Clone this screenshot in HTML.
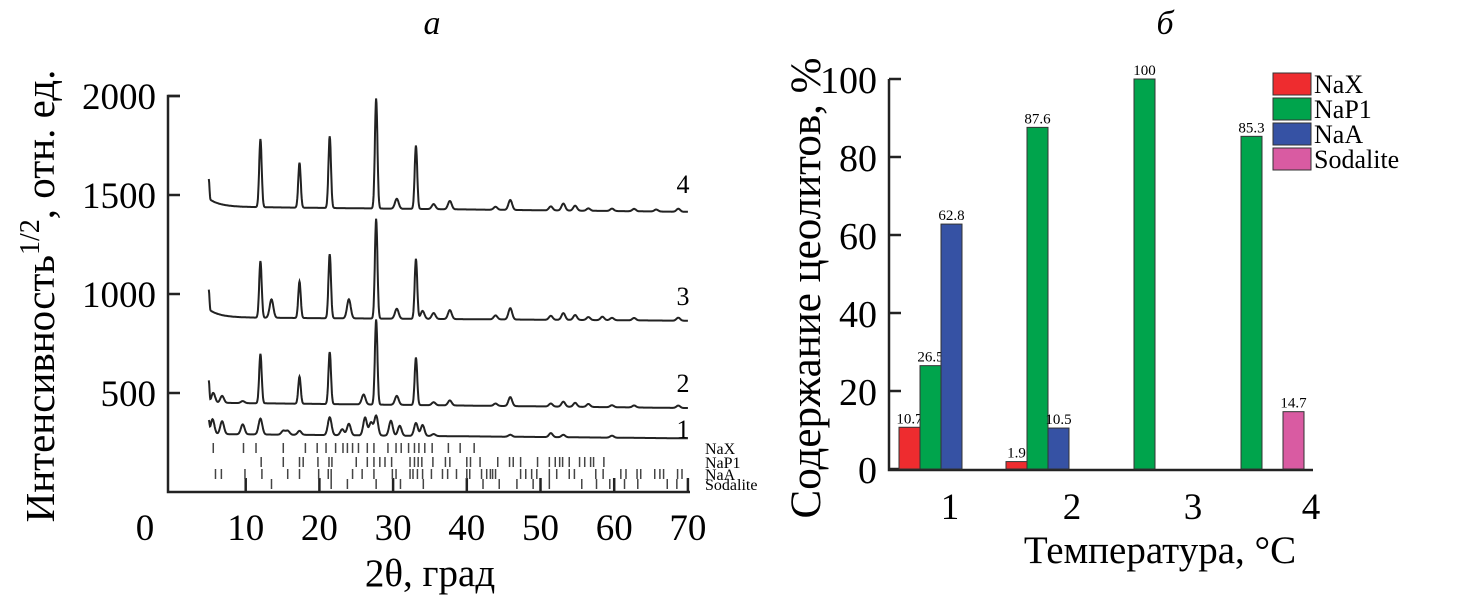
<!DOCTYPE html>
<html><head><meta charset="utf-8"><style>
html,body{margin:0;padding:0;background:#fff;}
svg{display:block;font-family:"Liberation Serif","DejaVu Serif",serif;}
text{font-family:"Liberation Serif","DejaVu Serif",serif;}
</style></head><body>
<svg id="fig" width="1465" height="597" viewBox="0 0 1465 597">
<text x="432" y="34" font-size="34" font-style="italic" text-anchor="middle">а</text>
<text x="1165" y="34" font-size="34" font-style="italic" text-anchor="middle">б</text>
<g id="left"></g>
<g id="right"></g>
</svg>
<script>
// ---------- Panel a data ----------
const yTicksA = [500, 1000, 1500, 2000];
const xTicksA = [0, 10, 20, 30, 40, 50, 60, 70];
const curveNames = ["1", "2", "3", "4"];
const baseStart = [293, 451, 882, 1441];
const baseEnd = [271, 424, 865, 1415];
const lowHump = [0, 0, 40, 40];
const peaks1Pos = [5.0,5.5,6.8,9.6,12.0,15.1,15.7,17.3,21.4,23.1,24.0,26.2,27.0,27.7,29.7,30.9,33.1,34.0,35.5,45.9,51.4,53.1,59.7];
const peaks1H = [60,75,65,50,80,20,20,20,90,30,58,90,65,100,75,50,65,55,10,10,20,12,10];
const peaks2Pos = [5.0,5.6,6.8,9.6,12.0,17.3,21.4,26.0,27.7,30.5,33.1,35.5,37.7,43.9,45.9,51.4,53.1,54.7,56.5,59.7,62.7,68.7];
const peaks2H = [110,50,35,10,250,137,263,50,430,45,240,15,25,12,45,15,25,20,15,10,10,12];
const peaks3Pos = [5.0,12.0,13.5,17.3,21.4,24.0,27.7,30.5,34.0,35.5,33.1,37.7,43.9,45.9,51.4,53.1,54.7,56.5,58.4,59.7,62.7,68.7];
const peaks3H = [100,286,93,184,324,96,504,50,40,30,303,45,20,57,20,34,25,15,17,12,12,15];
const peaks4Pos = [5.0,12.0,17.3,21.4,27.7,30.5,33.1,35.5,37.7,43.9,45.9,51.4,53.1,54.7,56.5,59.7,62.7,65.7,68.7];
const peaks4H = [100,344,227,362,556,50,320,25,42,15,50,20,35,25,12,12,12,10,15];
const stickNaX = [5.6,9.7,11.4,15.1,18.1,19.7,20.9,22.2,23.2,23.8,24.5,25.3,26.5,27.4,29.3,30.4,31.1,32.1,32.9,33.5,34.3,35.3,37.5,39.1,41.0];
const stickNaP1 = [12.1,15.1,17.3,17.8,19.8,21.3,21.7,25.0,26.5,27.4,28.2,28.9,29.8,32.3,32.9,33.4,33.9,35.4,37.1,37.7,40.0,40.5,41.8,44.2,45.8,46.3,47.3,49.6,51.2,52.0,52.6,53.0,53.9,55.3,56.0,56.8,57.2,58.6];
const stickNaA = [5.9,6.7,9.9,12.2,15.7,17.3,19.9,21.2,21.6,24.5,25.8,27.4,29.9,30.4,32.3,32.7,33.3,34.0,35.2,36.7,37.4,38.6,40.0,40.4,42.0,42.7,43.2,43.5,43.9,47.3,48.0,48.8,49.5,51.2,52.2,53.9,54.6,57.5,58.5,60.9,61.6,63.1,63.6,65.5,66.2,66.7,68.6,69.2];
const stickSod = [13.5,21.6,23.8,27.7,31.0,34.1,42.2,44.4,46.8,49.0,51.2,55.6,57.6,59.4,61.4,63.2,67.2,68.5];
const phaseNames = ["NaX", "NaP1", "NaA", "Sodalite"];

// ---------- Panel b data ----------
const categories = ["1", "2", "3", "4"];
const seriesNames = ["NaX", "NaP1", "NaA", "Sodalite"];
const valNaX = [10.7, 1.9, 0, 0];
const valNaP1 = [26.5, 87.6, 100, 85.3];
const valNaA = [62.8, 10.5, 0, 0];
const valSod = [0, 0, 0, 14.7];
const yTicksB = [0, 20, 40, 60, 80, 100];

const NS = "http://www.w3.org/2000/svg";
function mk(tag, attrs, parent, txt) {
  const e = document.createElementNS(NS, tag);
  for (const k in attrs) e.setAttribute(k, attrs[k]);
  if (txt !== undefined) e.textContent = txt;
  parent.appendChild(e);
  return e;
}

// ---------- Panel a ----------
const L = document.getElementById("left");
const xA = t => 172 + t * 7.37;
const yA = v => 492 - v * 99 / 500;
let e;
e = mk("path", {d: "M180 96 H168 V492 H690", fill: "none", stroke: "#222", "stroke-width": 2.5}, L);


yTicksA.forEach(v => {
  e = mk("line", {x1: 168, x2: 180, y1: yA(v), y2: yA(v), stroke: "#222", "stroke-width": 2.5}, L);
  
  
  e = mk("text", {x: 156, y: yA(v) + 13, "font-size": 37, "text-anchor": "end"}, L, String(v));
  
  
});
xTicksA.forEach(t => {
  if (t > 0) {
    e = mk("line", {x1: xA(t), x2: xA(t), y1: 492, y2: 478, stroke: "#222", "stroke-width": 2.5}, L);
    
    
  }
  e = mk("text", {x: t === 0 ? 145 : xA(t), y: 540, "font-size": 37, "text-anchor": "middle"}, L, String(t));
  
  
});
e = mk("text", {x: 430, y: 586, "font-size": 39, "text-anchor": "middle"}, L, "2θ, град");


e = mk("text", {transform: "translate(54,296) rotate(-90)", "font-size": 41, "text-anchor": "middle"}, L);


mk("tspan", {}, e, "Интенсивность");
mk("tspan", {dy: -15, "font-size": 28}, e, "1/2");
mk("tspan", {dy: 15}, e, ", отн. ед.");

const peakPos = [peaks1Pos, peaks2Pos, peaks3Pos, peaks4Pos];
const peakH = [peaks1H, peaks2H, peaks3H, peaks4H];
const labelY = [438, 392, 305, 193];
for (let c = 0; c < 4; c++) {
  let d = "";
  for (let t = 5; t <= 70.001; t += 0.05) {
    let v = baseStart[c] + (baseEnd[c] - baseStart[c]) * (t - 5) / 65;
    v += lowHump[c] * Math.exp(-(t - 5) / 1.5);
    const P = peakPos[c], H = peakH[c];
    for (let i = 0; i < P.length; i++) {
      const s = P[i] === 5.0 ? 0.08 : (H[i] > 100 ? 0.17 : 0.25);
      v += H[i] * Math.exp(-0.5 * ((t - P[i]) / s) ** 2);
    }
    d += (d ? "L" : "M") + xA(t).toFixed(1) + " " + yA(v).toFixed(1);
  }
  e = mk("path", {d: d, fill: "none", stroke: "#222", "stroke-width": 2}, L);
  
  
  e = mk("text", {x: 683, y: labelY[c], "font-size": 26, "text-anchor": "middle"}, L, curveNames[c]);
  
  
}
const sticks = [stickNaX, stickNaP1, stickNaA, stickSod];
const stickY = [443, 457, 469, 479];
sticks.forEach((arr, r) => {
  arr.forEach(t => {
    e = mk("line", {x1: xA(t), x2: xA(t), y1: stickY[r], y2: stickY[r] + 10, stroke: "#444", "stroke-width": 1.5}, L);
    
    
  });
  e = mk("text", {x: 705, y: stickY[r] + 11, "font-size": 16}, L, phaseNames[r]);
  
  
});

// ---------- Panel b ----------
const R = document.getElementById("right");
const yB = v => 469 - v * 3.9;
const groupX = i => 899 + i * 107;
const barW = 21;
const colors = ["#ee2c2f", "#00a44c", "#3652a4", "#d95ba2"];
const allVals = [valNaX, valNaP1, valNaA, valSod];
e = mk("path", {d: "M889 79 V470 H1313", fill: "none", stroke: "#222", "stroke-width": 2.5}, R);


yTicksB.forEach(v => {
  e = mk("line", {x1: 889, x2: 901, y1: yB(v), y2: yB(v), stroke: "#222", "stroke-width": 2.5}, R);
  
  
  e = mk("text", {x: 877, y: yB(v) + 14, "font-size": 38, "text-anchor": "end"}, R, String(v));
  
  
});
const catLabelX = [950, 1072, 1193, 1311];
categories.forEach((c, i) => {
  e = mk("text", {x: catLabelX[i], y: 519, "font-size": 37, "text-anchor": "middle"}, R, c);
  
  
});
e = mk("text", {x: 1160, y: 563, "font-size": 39, "text-anchor": "middle"}, R, "Температура, °С");


e = mk("text", {transform: "translate(820,288) rotate(-90)", "font-size": 43, "text-anchor": "middle"}, R, "Содержание цеолитов, %");


allVals.forEach((vals, s) => {
  vals.forEach((v, i) => {
    if (v <= 0) return;
    const x = groupX(i) + s * barW;
    e = mk("rect", {x: x, y: yB(v), width: barW, height: yB(0) - yB(v), fill: colors[s], stroke: "#333", "stroke-width": 1}, R);
    
    
    e = mk("text", {x: x + barW / 2, y: yB(v) - 4, "font-size": 15, "text-anchor": "middle"}, R, String(v));
    
    
  });
});
seriesNames.forEach((n, s) => {
  const y = 73 + s * 25;
  e = mk("rect", {x: 1273, y: y, width: 38, height: 22, fill: colors[s], stroke: "#333", "stroke-width": 1}, R);
  
  
  e = mk("text", {x: 1314, y: y + 20, "font-size": 26}, R, n);
  
  
});
</script>
</body></html>
